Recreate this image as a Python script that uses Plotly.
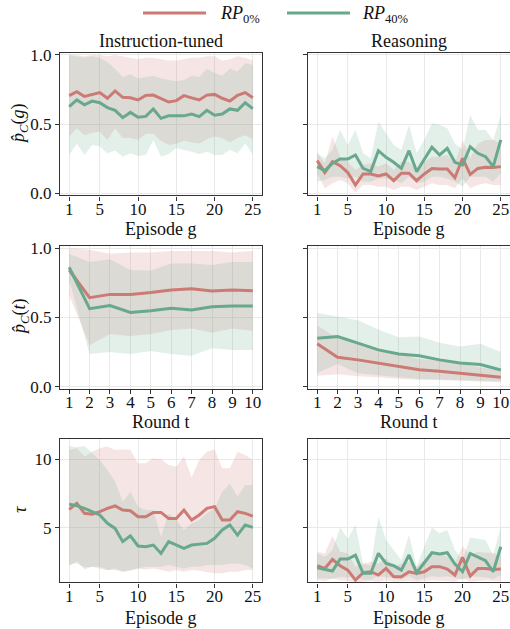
import plotly.graph_objects as go

# ---------------- data ----------------
episodes = list(range(1, 26))
rounds = list(range(1, 11))
episode_ticks = [1, 5, 10, 15, 20, 25]
round_ticks = list(range(1, 11))
prob_ticks = [0.0, 0.5, 1.0]
prob_tick_labels = ["0.0", "0.5", "1.0"]
tau_ticks = [5, 10]
tau_tick_labels = ["5", "10"]
series_names = ["RP0%", "RP40%"]
col_titles = ["Instruction-tuned", "Reasoning"]

# Instruction-tuned, p_C(g)
it_pg_rp0 = [0.706, 0.735, 0.70, 0.715, 0.728, 0.687, 0.74, 0.694, 0.69, 0.675, 0.708, 0.71, 0.687,
             0.66, 0.67, 0.706, 0.69, 0.675, 0.71, 0.715, 0.687, 0.667, 0.708, 0.728, 0.69]
it_pg_rp0_hi = [1.0, 1.0, 0.99, 1.0, 1.0, 0.99, 1.0, 0.99, 0.98, 0.97, 0.98, 0.98, 0.97,
                0.96, 0.96, 0.97, 0.98, 0.98, 0.99, 0.99, 0.96, 0.97, 0.99, 0.98, 0.96]
it_pg_rp0_lo = [0.41, 0.47, 0.42, 0.44, 0.445, 0.385, 0.47, 0.40, 0.40, 0.385, 0.43, 0.43, 0.38,
                0.35, 0.36, 0.38, 0.37, 0.36, 0.39, 0.41, 0.40, 0.37, 0.40, 0.42, 0.39]
it_pg_rp40 = [0.627, 0.675, 0.64, 0.667, 0.655, 0.62, 0.60, 0.547, 0.585, 0.55, 0.556, 0.61, 0.542,
              0.56, 0.56, 0.56, 0.573, 0.554, 0.60, 0.564, 0.573, 0.61, 0.60, 0.655, 0.612]
it_pg_rp40_hi = [1.0, 0.99, 0.98, 0.99, 0.98, 0.95, 0.90, 0.84, 0.86, 0.83, 0.84, 0.85, 0.83,
                 0.82, 0.81, 0.82, 0.85, 0.84, 0.90, 0.87, 0.85, 0.90, 0.88, 0.94, 0.93]
it_pg_rp40_lo = [0.277, 0.36, 0.277, 0.35, 0.34, 0.29, 0.31, 0.265, 0.29, 0.27, 0.277, 0.385, 0.265,
                 0.285, 0.325, 0.315, 0.30, 0.285, 0.30, 0.277, 0.277, 0.315, 0.29, 0.36, 0.28]

# Reasoning, p_C(g)
rs_pg_rp0 = [0.236, 0.15, 0.229, 0.2, 0.15, 0.06, 0.14, 0.14, 0.125, 0.14, 0.092, 0.145, 0.145,
             0.092, 0.14, 0.18, 0.176, 0.176, 0.113, 0.253, 0.137, 0.18, 0.188, 0.186, 0.193]
rs_pg_rp0_hi = [0.289, 0.217, 0.41, 0.265, 0.229, 0.169, 0.205, 0.217, 0.193, 0.217, 0.169, 0.229, 0.229,
                0.169, 0.229, 0.265, 0.265, 0.277, 0.217, 0.386, 0.253, 0.361, 0.386, 0.386, 0.361]
rs_pg_rp0_lo = [0.145, 0.036, 0.072, 0.096, 0.072, 0.005, 0.06, 0.06, 0.048, 0.048, 0.024, 0.048, 0.048,
                0.024, 0.048, 0.072, 0.06, 0.06, 0.036, 0.108, 0.036, 0.06, 0.072, 0.06, 0.06]
rs_pg_rp40 = [0.193, 0.164, 0.217, 0.248, 0.248, 0.277, 0.18, 0.157, 0.308, 0.26, 0.224, 0.18, 0.308,
              0.157, 0.246, 0.333, 0.277, 0.325, 0.224, 0.205, 0.337, 0.289, 0.265, 0.193, 0.386]
rs_pg_rp40_hi = [0.289, 0.253, 0.313, 0.458, 0.349, 0.458, 0.289, 0.253, 0.518, 0.434, 0.349, 0.313, 0.494,
                 0.289, 0.386, 0.506, 0.494, 0.47, 0.361, 0.313, 0.566, 0.458, 0.458, 0.386, 0.566]
rs_pg_rp40_lo = [0.084, 0.096, 0.12, 0.12, 0.108, 0.12, 0.084, 0.084, 0.108, 0.108, 0.096, 0.072, 0.12,
                 0.072, 0.084, 0.12, 0.12, 0.108, 0.084, 0.048, 0.12, 0.12, 0.12, 0.084, 0.145]

# Instruction-tuned, p_C(t)
it_pt_rp0 = [0.843, 0.643, 0.667, 0.667, 0.68, 0.699, 0.708, 0.692, 0.699, 0.694]
it_pt_rp0_hi = [1.0, 0.99, 0.96, 0.97, 0.97, 0.98, 0.98, 0.98, 0.97, 0.98]
it_pt_rp0_lo = [0.66, 0.30, 0.38, 0.366, 0.38, 0.41, 0.42, 0.39, 0.42, 0.405]
it_pt_rp40 = [0.863, 0.564, 0.586, 0.537, 0.549, 0.566, 0.554, 0.578, 0.583, 0.583]
it_pt_rp40_hi = [0.96, 0.90, 0.92, 0.843, 0.84, 0.89, 0.89, 0.88, 0.90, 0.90]
it_pt_rp40_lo = [0.77, 0.236, 0.25, 0.236, 0.258, 0.236, 0.224, 0.277, 0.265, 0.265]

# Reasoning, p_C(t)
rs_pt_rp0 = [0.31, 0.213, 0.194, 0.172, 0.145, 0.123, 0.111, 0.097, 0.082, 0.068]
rs_pt_rp0_hi = [0.443, 0.346, 0.322, 0.274, 0.237, 0.2, 0.19, 0.17, 0.14, 0.116]
rs_pt_rp0_lo = [0.08, 0.09, 0.075, 0.068, 0.056, 0.051, 0.048, 0.044, 0.039, 0.032]
rs_pt_rp40 = [0.351, 0.363, 0.315, 0.266, 0.237, 0.223, 0.194, 0.172, 0.16, 0.121]
rs_pt_rp40_hi = [0.533, 0.504, 0.48, 0.414, 0.358, 0.363, 0.317, 0.29, 0.31, 0.25]
rs_pt_rp40_lo = [0.10, 0.165, 0.097, 0.08, 0.068, 0.056, 0.056, 0.048, 0.044, 0.039]

# Instruction-tuned, tau
it_tau_rp0 = [6.34, 6.78, 6.05, 5.98, 6.17, 6.41, 6.59, 6.29, 6.24, 5.8, 5.8, 6.12, 6.12,
              5.68, 5.68, 6.29, 5.56, 5.93, 6.41, 6.54, 5.56, 5.56, 6.17, 6.05, 5.85]
it_tau_rp0_hi = [10.68, 10.8, 10.2, 10.56, 10.8, 10.93, 10.68, 10.73, 10.68, 9.71, 9.71, 10.07, 10.0,
                 9.59, 9.46, 10.2, 8.68, 9.95, 10.56, 10.73, 9.34, 9.34, 10.56, 10.32, 9.95]
it_tau_rp0_lo = [2.3, 2.4, 2.1, 2.15, 2.02, 1.9, 1.9, 1.78, 1.9, 2.02, 1.95, 2.02, 1.9,
                 1.78, 1.9, 1.78, 1.9, 1.85, 1.78, 1.66, 1.66, 1.78, 1.78, 1.9, 1.9]
it_tau_rp40 = [6.71, 6.61, 6.41, 6.17, 5.93, 5.32, 4.95, 3.98, 4.41, 3.66, 3.61, 3.73, 3.12,
               3.98, 3.73, 3.49, 3.73, 3.8, 3.85, 4.22, 4.83, 5.2, 4.46, 5.2, 5.02]
it_tau_rp40_hi = [10.98, 10.88, 10.98, 10.44, 9.95, 9.22, 8.37, 6.9, 7.63, 6.54, 6.29, 6.29, 4.34,
                  6.05, 5.56, 4.83, 5.32, 5.56, 6.05, 6.41, 7.63, 8.24, 7.27, 8.12, 8.12]
it_tau_rp40_lo = [2.2, 2.55, 1.95, 2.15, 2.15, 1.9, 2.02, 1.78, 1.85, 2.02, 2.15, 2.15, 2.15,
                  2.27, 2.15, 2.02, 2.15, 2.15, 2.27, 2.27, 2.27, 2.39, 2.39, 2.27, 2.02]

# Reasoning, tau
rs_tau_rp0 = [2.22, 2.02, 2.68, 2.22, 1.9, 1.17, 1.71, 1.78, 1.54, 2.02, 1.41, 1.41, 1.78,
              1.66, 1.78, 2.15, 2.15, 1.98, 1.54, 2.83, 1.46, 2.02, 2.02, 1.95, 1.98]
rs_tau_rp0_hi = [3.24, 3.12, 4.39, 3.24, 3.12, 2.15, 2.39, 2.51, 2.39, 2.76, 2.15, 2.39, 2.51,
                 2.15, 2.63, 3.0, 3.12, 2.88, 2.39, 3.66, 3.0, 3.24, 3.17, 3.17, 2.88]
rs_tau_rp0_lo = [1.2, 1.1, 1.3, 1.15, 1.1, 1.0, 1.05, 1.1, 1.05, 1.15, 1.05, 1.05, 1.1,
                 1.05, 1.1, 1.15, 1.15, 1.1, 1.05, 1.3, 1.05, 1.1, 1.15, 1.1, 1.1]
rs_tau_rp40 = [2.07, 1.95, 1.83, 2.71, 2.71, 3.0, 1.66, 1.66, 3.12, 2.39, 2.22, 1.9, 3.0,
               1.71, 2.44, 3.17, 3.07, 3.17, 2.34, 1.78, 3.12, 2.88, 2.59, 1.78, 3.61]
rs_tau_rp40_hi = [3.12, 2.88, 3.37, 5.02, 4.2, 5.2, 2.37, 2.24, 5.8, 4.1, 3.37, 2.63, 4.46,
                  2.15, 3.61, 5.02, 4.59, 4.83, 3.37, 2.63, 4.29, 4.22, 4.1, 2.98, 5.07]
rs_tau_rp40_lo = [1.3, 1.3, 1.25, 1.4, 1.35, 1.4, 1.2, 1.2, 1.45, 1.35, 1.3, 1.2, 1.45,
                  1.15, 1.3, 1.45, 1.4, 1.45, 1.3, 1.2, 1.45, 1.4, 1.35, 1.25, 1.55]

# ---------------- styling ----------------
RED = "rgb(204,122,116)"
GREEN = "rgb(104,168,140)"
RED_FILL = "rgba(204,122,116,0.19)"
GREEN_FILL = "rgba(104,168,140,0.19)"
FONT = "Liberation Serif"
W, H = 510, 629

def px_x(x):
    return x / W

def px_y(y):
    return (H - y) / H

panels = [
    (0, 0, episodes, it_pg_rp0, it_pg_rp0_hi, it_pg_rp0_lo, it_pg_rp40, it_pg_rp40_hi, it_pg_rp40_lo),
    (0, 1, episodes, rs_pg_rp0, rs_pg_rp0_hi, rs_pg_rp0_lo, rs_pg_rp40, rs_pg_rp40_hi, rs_pg_rp40_lo),
    (1, 0, rounds, it_pt_rp0, it_pt_rp0_hi, it_pt_rp0_lo, it_pt_rp40, it_pt_rp40_hi, it_pt_rp40_lo),
    (1, 1, rounds, rs_pt_rp0, rs_pt_rp0_hi, rs_pt_rp0_lo, rs_pt_rp40, rs_pt_rp40_hi, rs_pt_rp40_lo),
    (2, 0, episodes, it_tau_rp0, it_tau_rp0_hi, it_tau_rp0_lo, it_tau_rp40, it_tau_rp40_hi, it_tau_rp40_lo),
    (2, 1, episodes, rs_tau_rp0, rs_tau_rp0_hi, rs_tau_rp0_lo, rs_tau_rp40, rs_tau_rp40_hi, rs_tau_rp40_lo),
]

col_dom = [[px_x(60), px_x(262)], [px_x(308), 1.0]]
row_dom = [[px_y(195.4), px_y(52.9)], [px_y(388.8), px_y(246.2)], [px_y(582.4), px_y(438.8)]]

fig = go.Figure()
layout = {}
for (r, c, x, m0, h0, l0, m1, h1, l1) in panels:
    k = r * 2 + c + 1
    xa = "x" if k == 1 else f"x{k}"
    ya = "y" if k == 1 else f"y{k}"
    for hi, lo, fill_c in [(h0, l0, RED_FILL), (h1, l1, GREEN_FILL)]:
        fig.add_trace(go.Scatter(
            x=list(x) + list(x)[::-1], y=list(hi) + list(lo)[::-1],
            fill="toself", fillcolor=fill_c, line=dict(width=0), mode="lines",
            hoverinfo="skip", showlegend=False, xaxis=xa, yaxis=ya))
    for mean, line_c, name in [(m0, RED, series_names[0]), (m1, GREEN, series_names[1])]:
        fig.add_trace(go.Scatter(
            x=x, y=mean, mode="lines", line=dict(color=line_c, width=3),
            name=name, showlegend=False, xaxis=xa, yaxis=ya))

    is_round = (r == 1)
    axis_common = dict(
        showline=True, linecolor="#333", linewidth=1.2,
        ticks="outside", ticklen=4, tickwidth=1.1, tickcolor="#333",
        tickfont=dict(family=FONT, size=17, color="#111"),
        showgrid=True, gridcolor="#e9e9e9", gridwidth=1, zeroline=False,
        automargin=False,
    )
    xkey = "xaxis" if k == 1 else f"xaxis{k}"
    ykey = "yaxis" if k == 1 else f"yaxis{k}"
    layout[xkey] = dict(
        axis_common, domain=col_dom[c], anchor=ya, mirror=True,
        range=[0.55, 10.45] if is_round else [-0.2, 26.2],
        tickmode="array", tickvals=round_ticks if is_round else episode_ticks,
        ticklabelstandoff=-6,
    )
    if r == 2:
        yrng, tv, tt = [1.0, 11.5], tau_ticks, tau_tick_labels
    else:
        yrng, tv, tt = [-0.015, 1.015], prob_ticks, prob_tick_labels
    layout[ykey] = dict(
        axis_common, domain=row_dom[r], anchor=xa, mirror=(c == 0),
        range=yrng, tickmode="array", tickvals=tv, ticktext=tt,
        showticklabels=(c == 0),
    )

ann_font = dict(family=FONT, size=18, color="#111")
annotations = []
for c, t in enumerate(col_titles):
    annotations.append(dict(text=t, x=(col_dom[c][0] + col_dom[c][1]) / 2, y=px_y(41),
                            xref="paper", yref="paper", showarrow=False, font=ann_font,
                            xanchor="center", yanchor="middle"))
for r, (lab, ypx) in enumerate([("Episode g", 229), ("Round t", 422), ("Episode g", 618)]):
    for c in range(2):
        annotations.append(dict(text=lab, x=(col_dom[c][0] + col_dom[c][1]) / 2, y=px_y(ypx),
                                xref="paper", yref="paper", showarrow=False, font=ann_font,
                                xanchor="center", yanchor="middle"))
for lab, ypx in [("<i>p̂</i><sub><i>C</i></sub>(<i>g</i>)", 124),
                 ("<i>p̂</i><sub><i>C</i></sub>(<i>t</i>)", 317),
                 ("<i>τ</i>", 510)]:
    annotations.append(dict(text=lab, x=px_x(20), y=px_y(ypx), xref="paper", yref="paper",
                            showarrow=False, font=ann_font, textangle=-90,
                            xanchor="center", yanchor="middle"))
annotations.append(dict(text="<i>RP</i><sub>0%</sub>", x=px_x(218), y=px_y(14), xref="paper",
                        yref="paper", showarrow=False, font=ann_font, xanchor="left", yanchor="middle"))
annotations.append(dict(text="<i>RP</i><sub>40%</sub>", x=px_x(360), y=px_y(14), xref="paper",
                        yref="paper", showarrow=False, font=ann_font, xanchor="left", yanchor="middle"))

shapes = [
    dict(type="line", xref="paper", yref="paper", x0=px_x(143), x1=px_x(206), y0=px_y(13), y1=px_y(13),
         line=dict(color=RED, width=3)),
    dict(type="line", xref="paper", yref="paper", x0=px_x(287), x1=px_x(350), y0=px_y(13), y1=px_y(13),
         line=dict(color=GREEN, width=3)),
]

fig.update_layout(
    template="none",
    width=W, height=H, autosize=False, margin=dict(l=0, r=0, t=0, b=0, pad=0, autoexpand=False),
    paper_bgcolor="white", plot_bgcolor="white",
    font=dict(family=FONT, size=17, color="#111"),
    showlegend=False, annotations=annotations, shapes=shapes,
    **layout,
)
fig.write_html(
    "out.html",
    config={"displayModeBar": False, "responsive": False},
    post_script=(
        "var s=document.createElement('style');"
        "s.textContent='html,body{margin:0!important;padding:0!important;overflow:hidden;height:629px;}';"
        "document.head.appendChild(s);"
    ),
)
